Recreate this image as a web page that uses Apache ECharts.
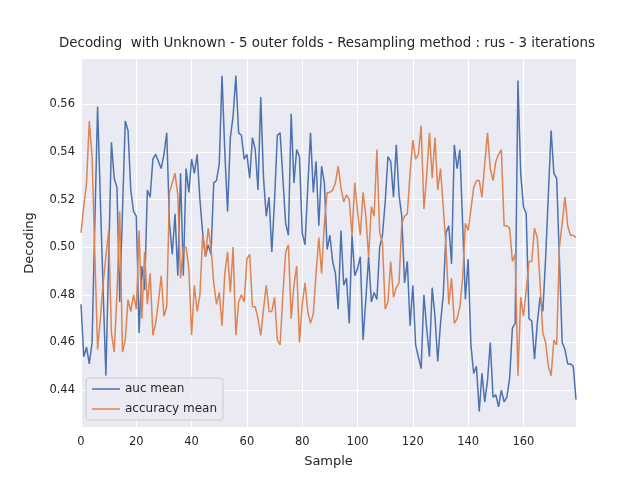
<!DOCTYPE html>
<html>
<head>
<meta charset="utf-8">
<script src="https://cdn.jsdelivr.net/npm/echarts@6/dist/echarts.min.js"></script>
<style>
  html, body { margin: 0; padding: 0; background: #fff; }
  #chart { width: 640px; height: 480px; }
</style>
</head>
<body>
<div id="chart"></div>
<script>
// values, one per sample (0..179)
const aucMean = [
  0.476, 0.454, 0.458, 0.451, 0.460, 0.510, 0.559, 0.520, 0.482, 0.446,
  0.495, 0.544, 0.529, 0.525, 0.477, 0.515, 0.553, 0.549, 0.524, 0.515,
  0.513, 0.464, 0.492, 0.482, 0.524, 0.521, 0.537, 0.539, 0.536, 0.533,
  0.539, 0.548, 0.510, 0.497, 0.514, 0.488, 0.531, 0.488, 0.533, 0.523,
  0.537, 0.531, 0.539, 0.520, 0.506, 0.496, 0.501, 0.497, 0.527, 0.528,
  0.535, 0.572, 0.540, 0.515, 0.546, 0.555, 0.572, 0.548, 0.547, 0.537,
  0.539, 0.529, 0.546, 0.541, 0.524, 0.563, 0.529, 0.513, 0.521, 0.498,
  0.520, 0.547, 0.548, 0.529, 0.510, 0.505, 0.556, 0.527, 0.541, 0.538,
  0.506, 0.501, 0.525, 0.548, 0.523, 0.536, 0.509, 0.534, 0.527, 0.499,
  0.505, 0.494, 0.489, 0.474, 0.507, 0.484, 0.487, 0.468, 0.505, 0.488,
  0.491, 0.496, 0.461, 0.478, 0.496, 0.477, 0.481, 0.478, 0.500, 0.505,
  0.519, 0.538, 0.536, 0.521, 0.543, 0.522, 0.513, 0.485, 0.494, 0.467,
  0.484, 0.459, 0.454, 0.449, 0.480, 0.466, 0.454, 0.483, 0.471, 0.452,
  0.468, 0.480, 0.506, 0.509, 0.493, 0.543, 0.533, 0.541, 0.510, 0.478,
  0.495, 0.459, 0.447, 0.450, 0.431, 0.447, 0.435, 0.444, 0.460, 0.437,
  0.438, 0.433, 0.440, 0.435, 0.437, 0.445, 0.466, 0.468, 0.570, 0.531,
  0.517, 0.514, 0.470, 0.469, 0.453, 0.468, 0.479, 0.473, 0.495, 0.522,
  0.549, 0.531, 0.529, 0.495, 0.460, 0.457, 0.451, 0.451, 0.450, 0.436
]
const accuracyMean = [
  0.506, 0.517, 0.527, 0.553, 0.538, 0.497, 0.457, 0.470, 0.485, 0.496,
  0.507, 0.464, 0.456, 0.480, 0.515, 0.456, 0.461, 0.478, 0.473, 0.480,
  0.474, 0.507, 0.470, 0.498, 0.476, 0.489, 0.463, 0.468, 0.477, 0.488,
  0.471, 0.475, 0.523, 0.527, 0.531, 0.522, 0.487, 0.500, 0.500, 0.491,
  0.463, 0.484, 0.473, 0.480, 0.505, 0.496, 0.508, 0.500, 0.485, 0.476,
  0.481, 0.467, 0.489, 0.498, 0.481, 0.500, 0.463, 0.477, 0.480, 0.477,
  0.495, 0.497, 0.475, 0.475, 0.470, 0.463, 0.474, 0.484, 0.473, 0.473,
  0.479, 0.461, 0.459, 0.480, 0.498, 0.501, 0.470, 0.484, 0.492, 0.460,
  0.476, 0.485, 0.473, 0.468, 0.472, 0.489, 0.504, 0.489, 0.510, 0.523,
  0.523, 0.524, 0.527, 0.534, 0.525, 0.519, 0.522, 0.520, 0.505, 0.527,
  0.515, 0.505, 0.523, 0.513, 0.496, 0.517, 0.513, 0.541, 0.506, 0.502,
  0.474, 0.477, 0.494, 0.479, 0.483, 0.485, 0.510, 0.513, 0.514, 0.531,
  0.545, 0.537, 0.539, 0.551, 0.516, 0.530, 0.548, 0.529, 0.546, 0.524,
  0.533, 0.517, 0.500, 0.476, 0.487, 0.468, 0.470, 0.475, 0.487, 0.510,
  0.507, 0.516, 0.525, 0.528, 0.528, 0.521, 0.535, 0.548, 0.533, 0.528,
  0.536, 0.539, 0.541, 0.509, 0.509, 0.508, 0.494, 0.497, 0.446, 0.479,
  0.471, 0.482, 0.494, 0.494, 0.508, 0.504, 0.485, 0.464, 0.460, 0.450,
  0.446, 0.461, 0.459, 0.500, 0.510, 0.521, 0.509, 0.505, 0.505, 0.504
]
const xTicks = [0, 20, 40, 60, 80, 100, 120, 140, 160]
const yTicks = [0.44, 0.46, 0.48, 0.50, 0.52, 0.54, 0.56]

const font = 'DejaVu Sans'
const textColor = '#262626'

const toPairs = arr => arr.map((v, i) => [i, v])

const chart = echarts.init(document.getElementById('chart'), null, { renderer: 'canvas' })

chart.setOption({
  animation: false,
  backgroundColor: '#ffffff',
  textStyle: { fontFamily: font },
  title: {
    text: 'Decoding  with Unknown - 5 outer folds - Resampling method : rus - 3 iterations',
    left: 59,
    top: 37,
    padding: 0,
    textStyle: { fontFamily: font, fontSize: 13.4, fontWeight: 'normal', color: textColor }
  },
  grid: {
    left: 81, right: 64, top: 59, bottom: 53,
    show: true, backgroundColor: '#EAEAF2', borderWidth: 0
  },
  legend: {
    orient: 'vertical',
    left: 86, top: 378,
    padding: [3, 6, 3, 6],
    itemGap: 4,
    icon: 'rect',
    itemWidth: 28,
    itemHeight: 1.5,
    backgroundColor: 'rgba(234,234,242,0.8)',
    borderColor: '#cccccc',
    borderWidth: 1,
    borderRadius: 3,
    textStyle: { fontFamily: font, fontSize: 12, color: textColor, lineHeight: 16 },
    data: ['auc mean', 'accuracy mean']
  },
  xAxis: {
    type: 'value',
    min: 0,
    max: 179,
    name: 'Sample',
    nameLocation: 'middle',
    nameGap: 28,
    nameTextStyle: { fontFamily: font, fontSize: 13, color: textColor },
    axisLine: { show: false },
    axisTick: { show: false, customValues: xTicks },
    axisLabel: { customValues: xTicks, margin: 9, fontFamily: font, fontSize: 11.5, color: textColor },
    splitLine: { show: true, lineStyle: { color: '#ffffff', width: 1 } }
  },
  yAxis: {
    type: 'value',
    min: 0.4245,
    max: 0.579,
    name: 'Decoding',
    nameLocation: 'middle',
    nameGap: 45,
    nameRotate: 90,
    nameTextStyle: { fontFamily: font, fontSize: 13, color: textColor },
    axisLine: { show: false },
    axisTick: { show: false, customValues: yTicks },
    axisLabel: {
      customValues: yTicks, margin: 6, fontFamily: font, fontSize: 11.5, color: textColor,
      formatter: v => v.toFixed(2)
    },
    splitLine: { show: true, lineStyle: { color: '#ffffff', width: 1 } }
  },
  series: [
    {
      name: 'auc mean',
      type: 'line',
      symbol: 'none',
      data: toPairs(aucMean),
      lineStyle: { color: '#4C72B0', width: 1.5 },
      itemStyle: { color: '#4C72B0' }
    },
    {
      name: 'accuracy mean',
      type: 'line',
      symbol: 'none',
      data: toPairs(accuracyMean),
      lineStyle: { color: '#DD8452', width: 1.5 },
      itemStyle: { color: '#DD8452' }
    }
  ]
})
</script>
</body>
</html>
